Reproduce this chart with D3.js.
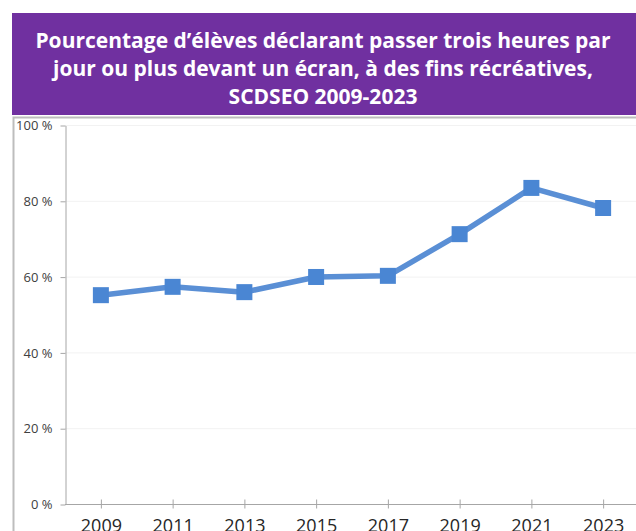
<!DOCTYPE html>
<html>
<head>
<meta charset="utf-8">
<script src="https://cdn.jsdelivr.net/npm/d3@7"></script>
<style>
  body { margin: 0; background: #fff; }
  svg { display: block; }
</style>
</head>
<body>
<div id="chart"></div>
<script>
// Pourcentage d'élèves, écran >= 3 h/jour

var years = ["2009", "2011", "2013", "2015", "2017", "2019", "2021", "2023"];
var values = [55.1, 57.3, 55.9, 59.9, 60.2, 71.2, 83.4, 78.1];
var yTicks = [0, 20, 40, 60, 80, 100];
var titleLines = [
  "Pourcentage d\u2019élèves déclarant passer trois heures par",
  "jour ou plus devant un écran, à des fins récréatives,",
  "SCDSEO 2009-2023"
];

var svgWidth = 636;
var svgHeight = 531;

var svg = d3.select("#chart")
  .append("svg")
  .attr("width", svgWidth)
  .attr("height", svgHeight);

// purple title banner
svg.append("rect")
  .attr("x", 12)
  .attr("y", 13)
  .attr("width", 624)
  .attr("height", 102)
  .attr("fill", "#7030a0");

svg.append("g")
  .selectAll("text")
  .data(titleLines)
  .enter()
  .append("text")
  .attr("x", 323)
  .attr("y", (d, i) => 48 + i * 28)
  .attr("text-anchor", "middle")
  .attr("fill", "#fff")
  .style("font", "bold 21px 'Open Sans', sans-serif")
  .text(d => d);

// chart frame
svg.append("rect")
  .attr("x", 13.5)
  .attr("y", 117.5)
  .attr("width", 640)
  .attr("height", 430)
  .attr("fill", "none")
  .attr("stroke", "#bdbdbd")
  .attr("stroke-width", 2);

var x = d3.scalePoint()
  .domain(years)
  .range([65, 639])
  .padding(0.5);

var y = d3.scaleLinear()
  .domain([0, 100])
  .range([504, 125]);

// light gridlines
svg.append("g")
  .selectAll("line")
  .data(yTicks.slice(1))
  .enter()
  .append("line")
  .attr("x1", 65)
  .attr("x2", 636)
  .attr("y1", d => y(d) + 0.5)
  .attr("y2", d => y(d) + 0.5)
  .attr("stroke", "#f2f2f2");

// y axis
var yAxis = svg.append("g")
  .attr("transform", "translate(65.5,0.5)")
  .call(d3.axisLeft(y).tickValues(yTicks).tickSize(5).tickSizeOuter(0)
    .tickFormat(d => d + " %"));
yAxis.select(".domain").attr("stroke", "#a6a6a6");
yAxis.selectAll(".tick line").attr("stroke", "#a6a6a6");
yAxis.selectAll("text")
  .attr("x", -13)
  .attr("fill", "#404040")
  .style("font", "13px 'Open Sans', sans-serif");

// x axis
var xAxis = svg.append("g")
  .attr("transform", "translate(0,504.5)")
  .call(d3.axisBottom(x).tickSize(0).tickSizeOuter(0));
xAxis.select(".domain").attr("stroke", "#a6a6a6").attr("d", "M65,0H636");
xAxis.selectAll(".tick").append("line")
  .attr("y1", -5)
  .attr("y2", 4)
  .attr("stroke", "#a6a6a6");
xAxis.selectAll("text")
  .attr("y", 27)
  .attr("dy", 0)
  .attr("fill", "#262626")
  .style("font", "18px 'Open Sans', sans-serif");

// the series
var line = d3.line()
  .x((d, i) => x(years[i]))
  .y(d => y(d));

svg.append("path")
  .datum(values)
  .attr("d", line)
  .attr("fill", "none")
  .attr("stroke", "#5a8fd5")
  .attr("stroke-width", 5.5)
  .attr("stroke-linejoin", "round");

svg.append("g")
  .selectAll("rect")
  .data(values)
  .enter()
  .append("rect")
  .attr("x", (d, i) => x(years[i]) - 8)
  .attr("y", d => y(d) - 8)
  .attr("width", 16)
  .attr("height", 16)
  .attr("fill", "#4a86d3");
</script>
</body>
</html>
